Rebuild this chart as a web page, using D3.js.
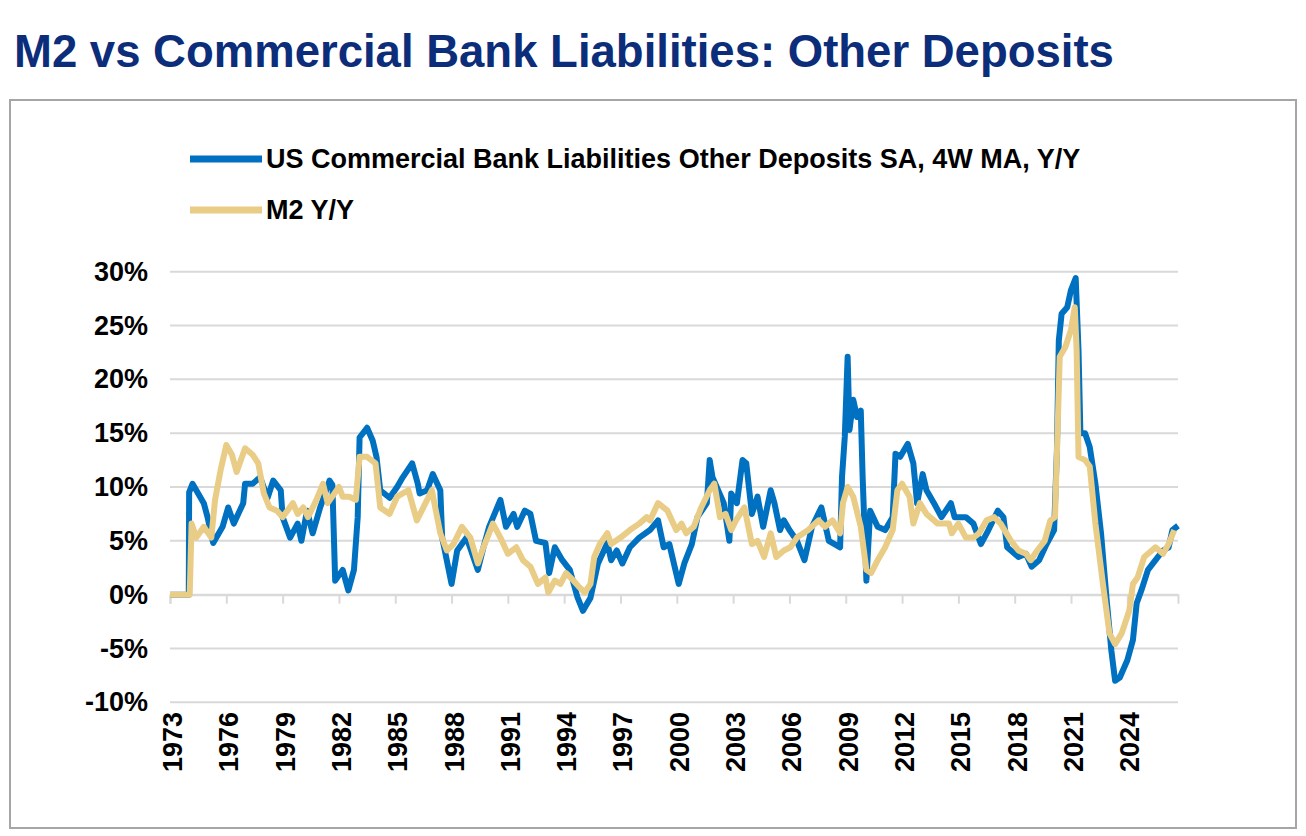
<!DOCTYPE html>
<html><head><meta charset="utf-8">
<script src="https://cdn.jsdelivr.net/npm/d3@7"></script>
<style>body{margin:0;background:#fff;font-family:"Liberation Sans",Arial,sans-serif}</style>
</head><body><svg id="c" width="1306" height="836"></svg>
<script>
const title = "M2 vs Commercial Bank Liabilities: Other Deposits";
const seriesNames = ["US Commercial Bank Liabilities Other Deposits SA, 4W MA, Y/Y", "M2 Y/Y"];
const yTicks = [-10, -5, 0, 5, 10, 15, 20, 25, 30];
const xTickYears = d3.range(1973, 2025, 3);

const depYears = [1973,1974,1974.02,1974.2,1974.8,1975.0,1975.3,1975.8,1976.1,1976.4,1976.9,1977.0,1977.4,1977.8,1978.2,1978.5,1978.9,1979.0,1979.4,1979.8,1980.0,1980.3,1980.6,1981.0,1981.5,1981.65,1981.8,1982.2,1982.5,1982.8,1983.0,1983.1,1983.5,1983.8,1984.0,1984.2,1984.7,1985.1,1985.4,1985.9,1986.2,1986.3,1986.7,1987.0,1987.4,1987.5,1988.0,1988.3,1988.8,1989.4,1989.7,1990.0,1990.6,1990.9,1991.3,1991.5,1991.9,1992.2,1992.5,1993.0,1993.2,1993.5,1993.9,1994.3,1994.7,1995.0,1995.4,1995.8,1996.3,1996.5,1996.8,1997.1,1997.5,1998.0,1998.57,1999.0,1999.3,1999.6,2000.1,2000.4,2000.8,2001.1,2001.6,2001.75,2001.9,2002.2,2002.5,2002.8,2002.9,2003.2,2003.5,2003.7,2004.0,2004.3,2004.6,2005.0,2005.2,2005.5,2005.7,2006.0,2006.4,2006.8,2007.2,2007.7,2008.1,2008.7,2008.8,2008.95,2009.1,2009.2,2009.4,2009.6,2009.8,2009.9,2010.1,2010.3,2010.7,2011.1,2011.5,2011.65,2011.9,2012.3,2012.6,2012.8,2013.1,2013.3,2013.7,2014.1,2014.6,2014.8,2015.4,2015.8,2016.2,2016.6,2017.1,2017.4,2017.6,2018.2,2018.6,2018.9,2019.3,2019.7,2020.1,2020.25,2020.35,2020.5,2020.8,2021.0,2021.25,2021.4,2021.5,2021.75,2022.0,2022.3,2022.6,2022.9,2023.15,2023.35,2023.6,2024.0,2024.3,2024.5,2024.75,2025.1,2025.5,2025.9,2026.2,2026.4,2026.7];
const depValues = [0,0,9.5,10.3,8.5,7.2,4.8,6.3,8.1,6.6,8.5,10.3,10.3,10.9,9.0,10.6,9.7,7.2,5.3,6.6,5.0,7.8,5.7,8.1,10.6,10.2,1.3,2.3,0.4,2.3,7.2,14.6,15.5,14.3,12.8,9.7,9.0,10.0,10.9,12.2,10.3,9.4,9.7,11.2,9.7,5.3,1.0,4.1,5.3,2.3,4.4,6.3,8.8,6.3,7.5,6.3,7.8,7.5,5.0,4.8,2.0,4.4,3.2,2.3,-0.2,-1.5,-0.3,2.9,4.8,3.2,4.1,2.9,4.4,5.3,6.0,6.9,4.4,4.7,1.0,2.9,4.7,7.2,8.5,12.5,10.9,9.7,8.5,5.0,9.4,8.5,12.5,12.2,7.5,9.1,6.3,9.7,8.5,6.0,6.9,6.0,5.0,3.2,6.3,8.1,5.0,4.4,10.9,14.7,22.1,15.3,18.1,16.5,17.1,10.9,1.3,7.8,6.3,6.0,7.2,13.1,12.8,14.0,12.2,8.5,11.2,9.7,8.5,7.2,8.5,7.2,7.2,6.6,4.7,6.0,7.8,7.2,4.4,3.5,3.8,2.6,3.2,4.7,6.0,13.4,23.6,26.1,26.7,28.3,29.4,22.7,15.0,15.0,13.7,10.3,5.7,-0.5,-5.2,-8.0,-7.7,-6.1,-4.2,-0.8,0.4,2.3,3.2,4.1,4.4,6.0,6.4];

const m2Years = [1973,1974.05,1974.15,1974.4,1974.8,1975.2,1975.4,1975.7,1976.0,1976.3,1976.55,1977.0,1977.4,1977.7,1978.0,1978.3,1978.7,1979.0,1979.55,1979.8,1980.1,1980.35,1980.8,1981.15,1981.4,1982.0,1982.2,1982.55,1982.9,1983.1,1983.5,1983.95,1984.2,1984.7,1985.1,1985.4,1985.7,1986.15,1986.5,1986.95,1987.4,1987.75,1988.1,1988.55,1989.0,1989.4,1989.7,1990.2,1990.6,1991.0,1991.45,1991.8,1992.2,1992.6,1993.0,1993.15,1993.5,1993.8,1994.1,1994.5,1994.8,1995.1,1995.4,1995.6,1995.9,1996.3,1996.5,1997.0,1997.5,1998.0,1998.4,1998.57,1999.0,1999.5,1999.97,2000.25,2000.5,2000.9,2001.3,2001.75,2002.0,2002.3,2002.6,2002.9,2003.15,2003.6,2004.0,2004.3,2004.65,2005.0,2005.3,2005.7,2006.05,2006.4,2007.0,2007.55,2007.9,2008.3,2008.7,2008.85,2009.1,2009.4,2009.8,2010.1,2010.35,2010.7,2011.1,2011.5,2011.75,2012.0,2012.4,2012.6,2012.95,2013.3,2013.9,2014.5,2014.65,2015.0,2015.4,2015.8,2016.1,2016.5,2016.9,2017.25,2017.8,2018.2,2018.6,2018.85,2019.2,2019.6,2019.9,2020.15,2020.4,2020.7,2021.0,2021.2,2021.3,2021.4,2021.75,2022.0,2022.3,2022.7,2023.05,2023.35,2023.7,2024.1,2024.3,2024.55,2024.9,2025.5,2025.9,2026.2,2026.5];
const m2Values = [0,0,6.6,5.3,6.3,5.3,8.8,11.6,13.9,13.0,11.4,13.6,13.0,12.2,9.4,8.1,7.8,7.2,8.5,7.5,8.1,7.2,8.8,10.3,8.5,10.0,9.1,9.1,8.8,12.8,12.8,12.2,8.1,7.5,9.1,9.4,9.7,6.9,8.1,9.7,5.7,4.1,4.7,6.3,5.3,2.9,4.4,6.6,5.3,3.8,4.4,3.2,2.6,1.0,1.6,0.2,1.3,1.0,2.0,1.3,0.7,0.2,1.0,3.5,4.7,5.7,4.7,5.3,6.0,6.6,7.2,6.9,8.5,7.8,6.0,6.6,5.7,6.3,8.1,9.7,10.3,7.2,7.5,6.0,6.9,8.1,4.7,5.0,3.5,5.7,3.5,4.1,4.4,5.3,6.0,6.9,6.3,6.9,5.7,8.5,10.0,9.1,6.3,2.3,2.0,3.2,4.4,6.0,9.7,10.3,9.1,6.6,8.5,7.5,6.6,6.6,5.7,6.6,5.3,5.3,5.7,6.9,7.2,6.6,5.0,4.1,3.8,3.2,4.1,5.0,6.9,7.2,22.1,23.0,24.6,26.7,22.7,12.8,12.5,11.9,6.6,1.0,-3.6,-4.6,-3.6,-1.5,1.0,1.6,3.5,4.4,3.8,4.7,6.0];

const colors = ["#0070c0", "#e9cc85"];
const FONT = "Liberation Sans, Arial, sans-serif";
const svg = d3.select("#c");
svg.append("text").attr("x", 14).attr("y", 67).attr("fill", "#0b2d7a")
  .attr("font-size", 45.5).attr("font-weight", "bold").text(title);
svg.append("rect").attr("x", 10).attr("y", 100).attr("width", 1286).attr("height", 728)
  .attr("fill", "none").attr("stroke", "#a6a6a6").attr("stroke-width", 2);

const x = d3.scaleLinear().domain([1973, 2026.7]).range([170, 1178]);
const y = d3.scaleLinear().domain([-10, 30]).range([702.3, 271.7]);

const grid = svg.append("g");
yTicks.forEach(t => grid.append("line").attr("x1", 170).attr("x2", 1178)
  .attr("y1", y(t)).attr("y2", y(t)).attr("stroke", "#d9d9d9").attr("stroke-width", 2));

svg.append("g").attr("transform", "translate(151,0)")
  .call(d3.axisLeft(y).tickValues(yTicks).tickSize(0).tickFormat(d => d + "%"))
  .call(g => g.select(".domain").remove())
  .selectAll("text").attr("font-size", 27).attr("font-weight", "bold").attr("fill", "#000")
  .attr("font-family", FONT);

const xa = svg.append("g").attr("transform", `translate(0,${y(0)})`)
  .call(d3.axisBottom(x).tickValues(xTickYears).tickSize(9).tickFormat(d3.format("d")));
xa.select(".domain").attr("stroke", "#d9d9d9").attr("stroke-width", 2);
xa.selectAll(".tick line").attr("stroke", "#d9d9d9").attr("stroke-width", 2);
xa.selectAll("text").attr("font-size", 27).attr("font-weight", "bold").attr("fill", "#000")
  .attr("font-family", FONT)
  .attr("transform", `translate(2,${712 - y(0)}) rotate(-90)`)
  .attr("x", 0).attr("y", 0).attr("dy", "0.35em").attr("text-anchor", "end");

const line = d3.line().x(d => x(d[0])).y(d => y(d[1]));
[[depYears, depValues], [m2Years, m2Values]].forEach((s, i) => {
  svg.append("path").datum(d3.zip(s[0], s[1])).attr("d", line).attr("fill", "none")
    .attr("stroke", colors[i]).attr("stroke-width", 6).attr("stroke-linejoin", "round");
});

seriesNames.forEach((n, i) => {
  const yy = 159 + i * 51;
  svg.append("line").attr("x1", 190).attr("x2", 262).attr("y1", yy).attr("y2", yy)
    .attr("stroke", colors[i]).attr("stroke-width", 7);
  svg.append("text").attr("x", 266).attr("y", yy).attr("dy", "0.35em").attr("font-size", 27)
    .attr("font-weight", "bold").attr("fill", "#000").text(n);
});
</script></body></html>
